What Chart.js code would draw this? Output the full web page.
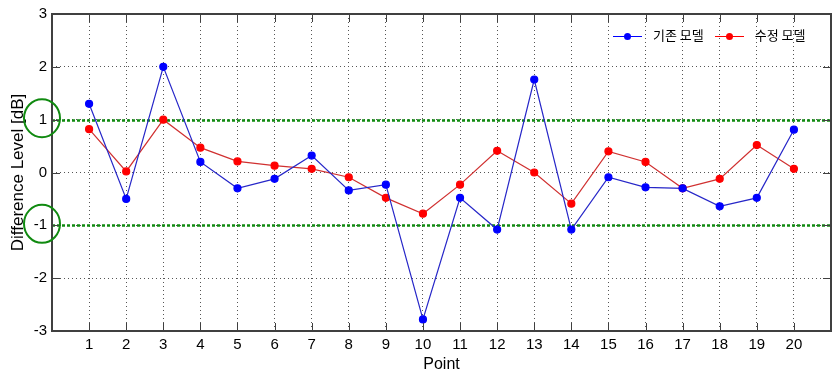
<!DOCTYPE html>
<html>
<head>
<meta charset="utf-8">
<script src="https://cdn.jsdelivr.net/npm/chart.js@4.4.1/dist/chart.umd.min.js"></script>
<style>
  html, body { margin: 0; padding: 0; background: #ffffff; }
  #wrap { position: relative; width: 839px; height: 383px; }
  #legend { position: absolute; left: 613px; top: 23px; font: 13px "Noto Sans CJK KR", sans-serif; color: #000; white-space: nowrap; }
  .item { display: inline-block; vertical-align: middle; margin-right: 11px; }
  .swatch { display: inline-block; position: relative; width: 29px; height: 9px; vertical-align: middle; margin-right: 11px; }
  .swatch i { position: absolute; left: 0; right: 0; top: 4px; height: 1px; }
  .swatch b { position: absolute; left: 11px; top: 1px; width: 7px; height: 7px; border-radius: 50%; }
</style>
</head>
<body>
<div id="wrap">
  <canvas id="chart" width="839" height="383"></canvas>
  <div id="legend">
    <span class="item"><span class="swatch"><i style="background:#0000ff"></i><b style="background:#0000ff"></b></span>기존 모델</span><span class="item"><span class="swatch"><i style="background:#ff0000"></i><b style="background:#ff0000"></b></span>수정 모델</span>
  </div>
</div>
<script>
const points = [1, 2, 3, 4, 5, 6, 7, 8, 9, 10, 11, 12, 13, 14, 15, 16, 17, 18, 19, 20];
const baseModel = [1.3, -0.5, 2.0, 0.2, -0.3, -0.12, 0.32, -0.34, -0.23, -2.78, -0.48, -1.08, 1.76, -1.08, -0.09, -0.28, -0.3, -0.64, -0.48, 0.81];
const revisedModel = [0.82, 0.02, 1.0, 0.47, 0.21, 0.13, 0.07, -0.09, -0.48, -0.78, -0.23, 0.41, 0.0, -0.59, 0.4, 0.2, -0.3, -0.12, 0.52, 0.07];
const yTicks = [-3, -2, -1, 0, 1, 2, 3];
const limitLines = [1, -1];

const FONT = "'Liberation Sans', Arial, sans-serif";
const GRID = "#555555";
const AXIS = "#404040";
const GREEN = "#108a10";

const toXY = (values) => values.map((v, i) => ({ x: points[i], y: v }));

// box, inner ticks, green limit lines and circles
const matlabFrame = {
  id: "matlabFrame",
  beforeDatasetsDraw(chart) {
    const { ctx, chartArea: a, scales } = chart;
    ctx.save();
    ctx.strokeStyle = GREEN;
    ctx.lineWidth = 2.5;
    ctx.setLineDash([3, 2]);
    limitLines.forEach((v) => {
      const y = Math.round(scales.y.getPixelForValue(v)) + 0.5;
      ctx.beginPath();
      ctx.moveTo(a.left, y);
      ctx.lineTo(a.right, y);
      ctx.stroke();
    });
    ctx.restore();
  },
  afterDraw(chart) {
    const { ctx, chartArea: a, scales } = chart;
    ctx.save();
    ctx.strokeStyle = AXIS;
    ctx.lineWidth = 1;
    ctx.beginPath();
    points.forEach((p) => {
      const x = Math.round(scales.x.getPixelForValue(p)) + 0.5;
      ctx.moveTo(x, a.bottom);
      ctx.lineTo(x, a.bottom - 8);
      ctx.moveTo(x, a.top);
      ctx.lineTo(x, a.top + 8);
    });
    yTicks.forEach((v) => {
      const y = Math.round(scales.y.getPixelForValue(v)) + 0.5;
      ctx.moveTo(a.left, y);
      ctx.lineTo(a.left + 8, y);
      ctx.moveTo(a.right, y);
      ctx.lineTo(a.right - 8, y);
    });
    ctx.stroke();
    ctx.lineWidth = 2;
    ctx.strokeRect(a.left, a.top, a.right - a.left, a.bottom - a.top);

    ctx.strokeStyle = GREEN;
    ctx.lineWidth = 2;
    limitLines.forEach((v) => {
      const y = scales.y.getPixelForValue(v);
      ctx.beginPath();
      ctx.ellipse(a.left - 10, y - 1.5, 18, 19, 0, 0, Math.PI * 2);
      ctx.stroke();
    });
    ctx.restore();
  }
};

new Chart(document.getElementById("chart").getContext("2d"), {
  type: "line",
  data: {
    datasets: [
      {
        label: "기존 모델",
        data: toXY(baseModel),
        borderColor: "#2626c8",
        borderWidth: 1.2,
        pointBackgroundColor: "#0000ff",
        pointBorderColor: "#0000ff",
        pointRadius: 3.5,
        tension: 0,
        fill: false
      },
      {
        label: "수정 모델",
        data: toXY(revisedModel),
        borderColor: "#d03030",
        borderWidth: 1.2,
        pointBackgroundColor: "#ff0000",
        pointBorderColor: "#ff0000",
        pointRadius: 3.5,
        tension: 0,
        fill: false
      }
    ]
  },
  options: {
    responsive: false,
    animation: false,
    layout: { padding: { top: 13, right: 8, left: 0, bottom: 0 } },
    plugins: {
      legend: { display: false },
      tooltip: { enabled: false }
    },
    scales: {
      x: {
        type: "linear",
        min: 0,
        max: 21,
        afterBuildTicks(scale) {
          scale.ticks = points.map((p) => ({ value: p }));
        },
        afterFit(scale) {
          scale.height = 52;
        },
        ticks: {
          autoSkip: false,
          maxRotation: 0,
          padding: 5,
          color: "#000000",
          font: { family: FONT, size: 15 }
        },
        grid: { color: GRID, lineWidth: 1, drawTicks: false },
        border: { display: false, dash: [1, 3] },
        title: {
          display: true,
          text: "Point",
          color: "#000000",
          font: { family: FONT, size: 16 },
          padding: { top: 0, bottom: 9 }
        }
      },
      y: {
        min: -3,
        max: 3,
        afterBuildTicks(scale) {
          scale.ticks = yTicks.map((v) => ({ value: v }));
        },
        afterFit(scale) {
          scale.width = 52;
        },
        ticks: {
          padding: 5,
          color: "#000000",
          font: { family: FONT, size: 15 }
        },
        grid: { color: GRID, lineWidth: 1, drawTicks: false },
        border: { display: false, dash: [1, 3] },
        title: {
          display: true,
          text: "Difference Level [dB]",
          color: "#000000",
          font: { family: FONT, size: 17 },
          padding: { top: 8, bottom: 0 }
        }
      }
    }
  },
  plugins: [matlabFrame]
});
</script>
</body>
</html>
